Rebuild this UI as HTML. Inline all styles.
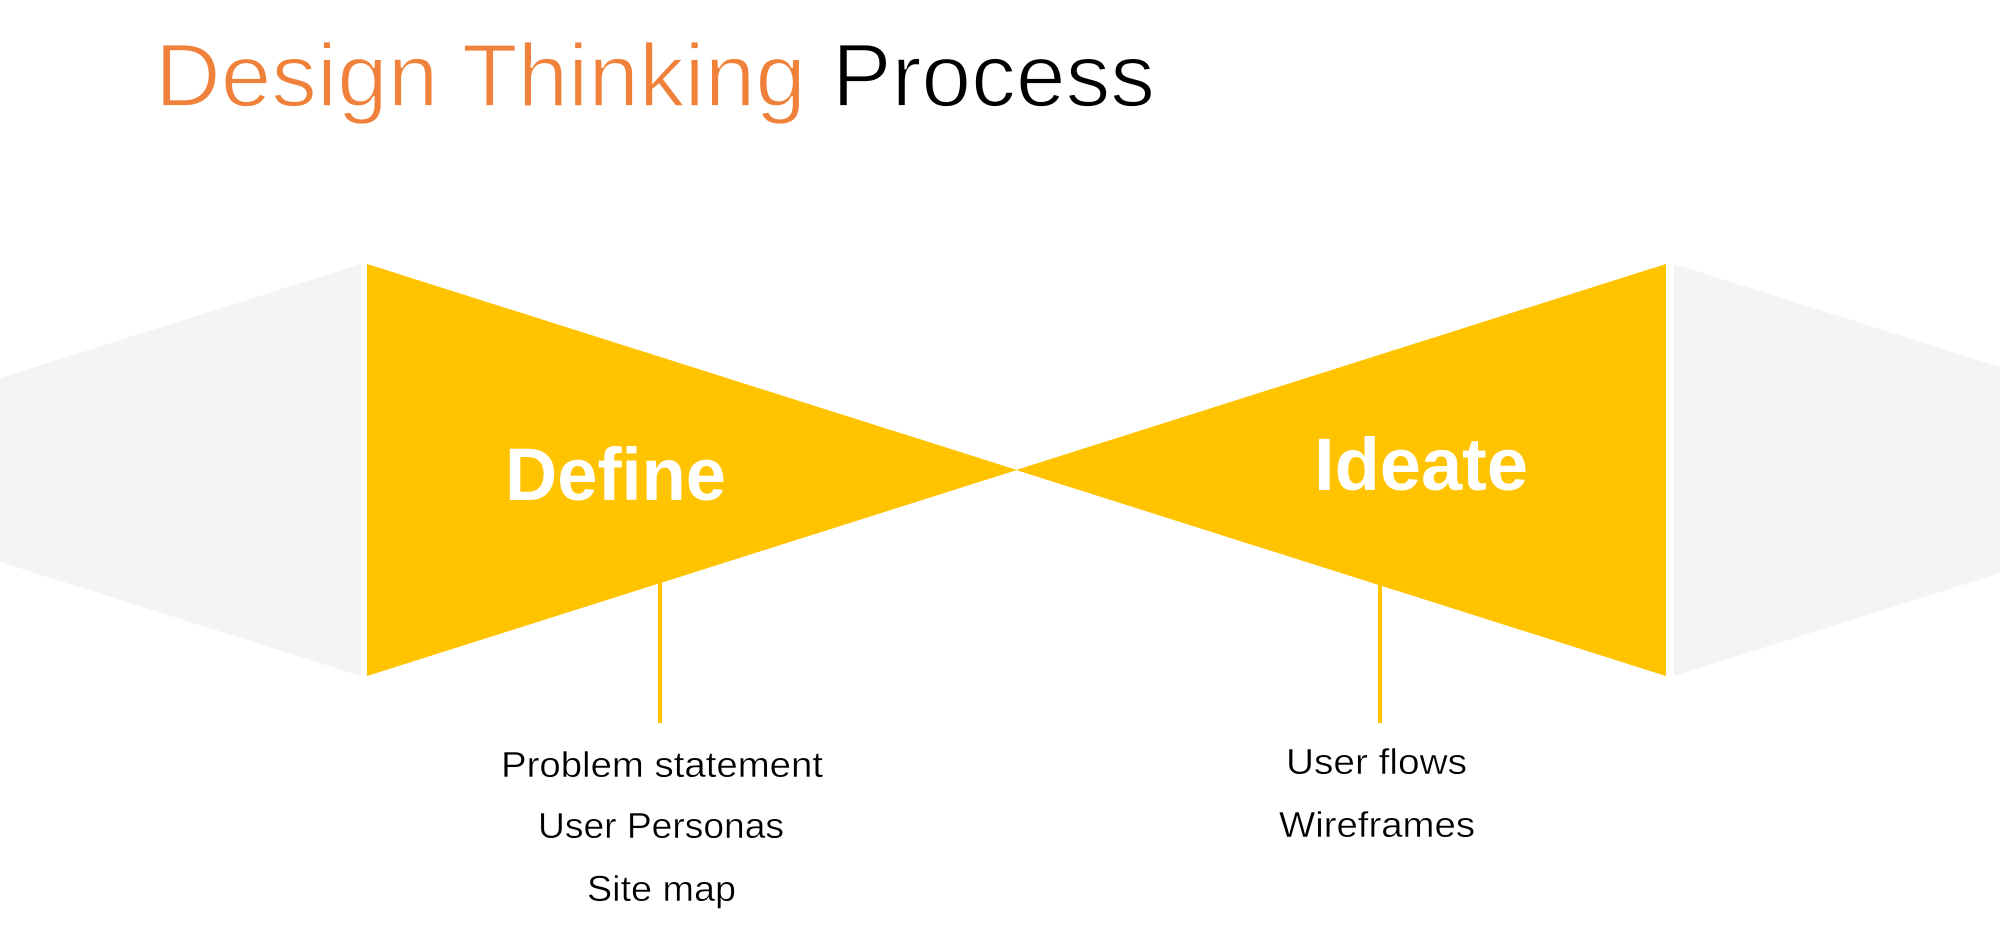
<!DOCTYPE html>
<html>
<head>
<meta charset="utf-8">
<style>
  html, body { margin: 0; padding: 0; background: #ffffff; }
  body { width: 2000px; height: 952px; overflow: hidden; }
  svg { display: block; }
  .t { font-family: "Liberation Sans", Arial, sans-serif; }
</style>
</head>
<body>
<svg width="2000" height="952" viewBox="0 0 2000 952" xmlns="http://www.w3.org/2000/svg">
  <rect x="0" y="0" width="2000" height="952" fill="#ffffff"/>

  <!-- Title -->
  <text class="t" x="155" y="106" font-size="89" fill="#F0813A" stroke="#ffffff" stroke-width="1.8" textLength="651" lengthAdjust="spacingAndGlyphs">Design Thinking</text>
  <text class="t" x="832" y="106" font-size="89" fill="#000000" stroke="#ffffff" stroke-width="1.8" textLength="323" lengthAdjust="spacingAndGlyphs">Process</text>

  <!-- Gray side shapes -->
  <polygon points="0,378 361,264 361,676 0,562" fill="#F4F4F4"/>
  <polygon points="1674,264 2000,367 2000,573 1674,676" fill="#F4F4F4"/>

  <!-- Yellow triangles -->
  <polygon points="367,264 1017,470 367,676" fill="#FFC300"/>
  <polygon points="1016,470 1666,264 1666,676" fill="#FFC300"/>

  <!-- Connector lines -->
  <rect x="658" y="582" width="4" height="141" fill="#FFC300"/>
  <rect x="1378" y="584" width="4" height="139" fill="#FFC300"/>

  <!-- Phase labels -->
  <text class="t" x="505" y="500" font-size="74" font-weight="bold" fill="#ffffff" textLength="221" lengthAdjust="spacingAndGlyphs">Define</text>
  <text class="t" x="1314" y="490" font-size="74" font-weight="bold" fill="#ffffff" textLength="214" lengthAdjust="spacingAndGlyphs">Ideate</text>

  <g stroke="#ffffff" stroke-width="0.4">
  <!-- Define list -->
  <text class="t" x="501" y="777" font-size="36" fill="#000000" textLength="322" lengthAdjust="spacingAndGlyphs">Problem statement</text>
  <text class="t" x="538" y="838" font-size="36" fill="#000000" textLength="246" lengthAdjust="spacingAndGlyphs">User Personas</text>
  <text class="t" x="587" y="901" font-size="36" fill="#000000" textLength="149" lengthAdjust="spacingAndGlyphs">Site map</text>

  <!-- Ideate list -->
  <text class="t" x="1286" y="774" font-size="36" fill="#000000" textLength="181" lengthAdjust="spacingAndGlyphs">User flows</text>
  <text class="t" x="1279" y="837" font-size="36" fill="#000000" textLength="196" lengthAdjust="spacingAndGlyphs">Wireframes</text>
  </g>
</svg>
</body>
</html>
